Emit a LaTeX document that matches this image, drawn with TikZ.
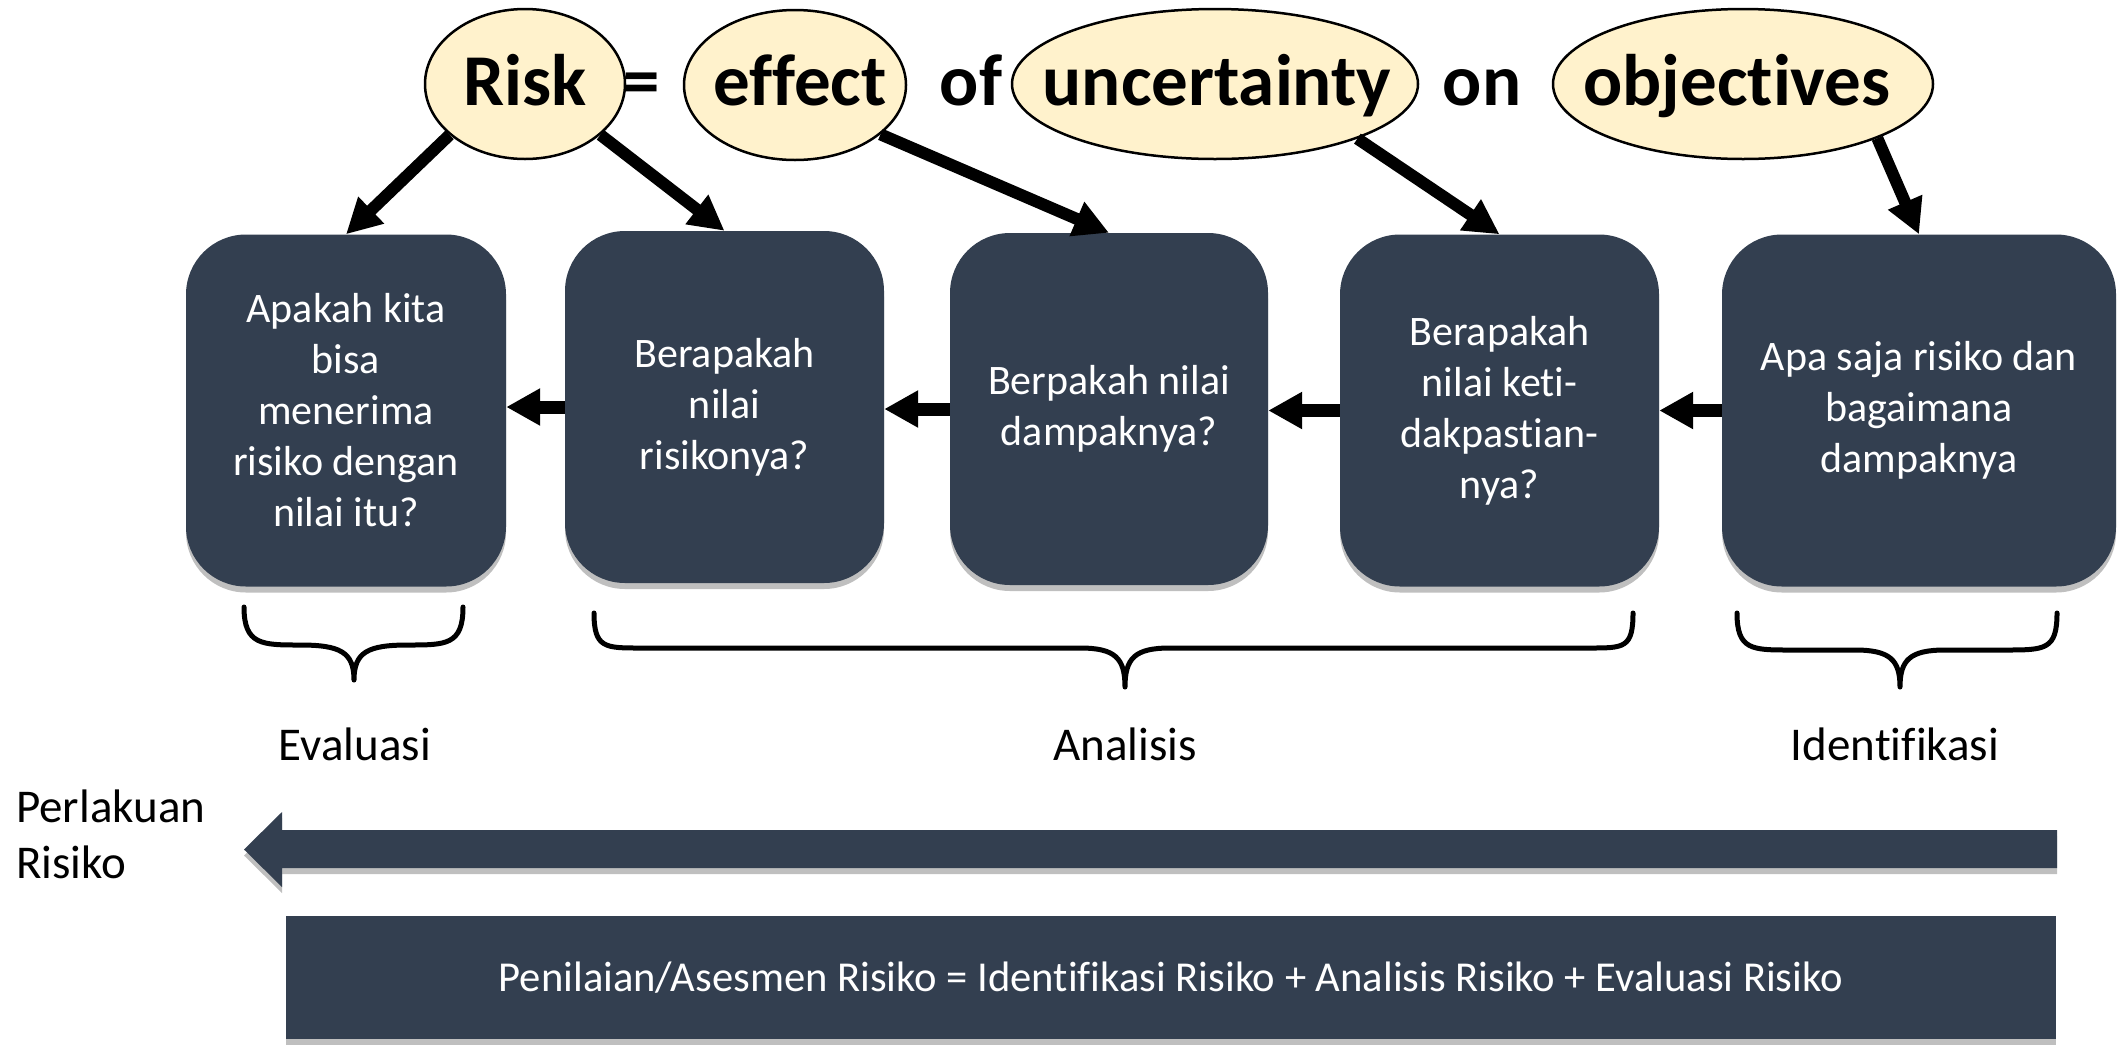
\documentclass[tikz,border=0pt]{standalone}
\usepackage{fontspec}
\setmainfont{Carlito}[Ligatures=NoCommon]
\usetikzlibrary{arrows.meta,shapes.geometric,shadows}
\definecolor{slate}{HTML}{333F50}
\definecolor{cream}{HTML}{FFF2CC}
\begin{document}
\begin{tikzpicture}[x=1pt,y=-1pt,
  oval/.style={ellipse, draw=black, line width=2.5pt, fill=cream, inner sep=0pt},
  word/.style={font=\fontsize{73}{80}\selectfont\bfseries, inner sep=0pt, anchor=base},
  softshadow/.style={drop shadow={shadow xshift=0pt, shadow yshift=-6pt, opacity=0.25, fill=black}},
  stepbox/.style={rectangle, rounded corners=60pt, fill=slate, text=white, align=center,
    font=\fontsize{42}{51}\selectfont, minimum height=352pt, inner sep=0pt, softshadow},
  link/.style={line width=12pt, -{Triangle[length=35pt,width=35pt]}},
  flow/.style={line width=13pt, -{Triangle[length=34pt,width=35pt]}},
  brc/.style={line width=5pt, line cap=round, line join=round},
  lbl/.style={font=\fontsize{47}{56}\selectfont, inner sep=0pt}
]
\useasboundingbox (0,0) rectangle (2125,1045);

% connecting words of the definition
\node[word] (eq) at (642,105) {=};
\node[word] (of) at (971,105) {of};
\node[word] (on) at (1482,105) {on};

% highlighted terms
\node[oval, minimum width=200pt, minimum height=150pt] (risk) at (525,84) {};
\node[oval, minimum width=222pt, minimum height=150pt] (effect) at (795,85) {};
\node[oval, minimum width=406pt, minimum height=150pt] (unc) at (1215,84) {};
\node[oval, minimum width=380pt, minimum height=150pt] (obj) at (1743,84) {};
\node[word] (wrisk) at (525,105) {Risk};
\node[word] (weffect) at (800,105) {effect};
\node[word] (wunc) at (1217,105) {uncertainty};
\node[word] (wobj) at (1737,105) {objectives};

% process steps
\node[stepbox, minimum width=320pt] (b1) at (346,410.5)
  {Apakah kita\\bisa\\menerima\\risiko dengan\\nilai itu?};
\node[stepbox, minimum width=319pt] (b2) at (724.5,407)
  {Berapakah\\nilai\\risikonya?};
\node[stepbox, minimum width=318pt] (b3) at (1109,409)
  {Berpakah nilai\\dampaknya?};
\node[stepbox, minimum width=319pt] (b4) at (1499.5,410.5)
  {Berapakah\\nilai keti-\\dakpastian-\\nya?};
\node[stepbox, minimum width=394pt] (b5) at (1919,410.5)
  {Apa saja risiko dan\\bagaimana\\dampaknya};

% terms pointing to the steps
\draw[link] (risk.-146) -- (b1.north);
\draw[link] (risk.-34) -- (b2.north);
\draw[link] (effect.-30) -- (b3.north);
\draw[link] (unc.-21) -- (b4.north);
\draw[link] (obj.-22) -- (b5.north);

% flow between steps
\draw[flow] (b2.west) -- (b2.west -| b1.east);
\draw[flow] (b3.west) -- (b3.west -| b2.east);
\draw[flow] (b4.west) -- (b4.west -| b3.east);
\draw[flow] (b5.west) -- (b5.west -| b4.east);

% grouping braces
\draw[brc] (244,607) .. controls (244,645) and (262,645) .. (300,645)
  .. controls (340,645) and (354,652) .. (354,680)
  .. controls (354,652) and (368,645) .. (408,645)
  .. controls (446,645) and (463,645) .. (463,607);
\draw[brc] (594,613) .. controls (594,648) and (605,648) .. (640,648) -- (1080,648)
  .. controls (1115,648) and (1125,658) .. (1125,687)
  .. controls (1125,658) and (1135,648) .. (1170,648) -- (1590,648)
  .. controls (1624,648) and (1633,648) .. (1633,613);
\draw[brc] (1737,613) .. controls (1737,650) and (1752,650) .. (1790,650) -- (1855,650)
  .. controls (1890,650) and (1900,660) .. (1900,687)
  .. controls (1900,660) and (1910,650) .. (1945,650) -- (2005,650)
  .. controls (2045,650) and (2057,650) .. (2057,613);

\node[lbl, anchor=base] (leval) at (355,760) {Evaluasi};
\node[lbl, anchor=base] (lanal) at (1125,760) {Analisis};
\node[lbl, anchor=base] (lident) at (1895,760) {Identifikasi};

% treatment arrow
\node[lbl, align=left, anchor=west] (treat) at (16,834) {Perlakuan\\Risiko};
\fill[slate, softshadow] (2057,830) -- (282,830) -- (282,812) -- (244,849.5)
  -- (282,887) -- (282,868) -- (2057,868) -- cycle;

% assessment summary
\node[rectangle, fill=slate, softshadow, minimum width=1770pt, minimum height=123pt,
  inner sep=0pt, text=white, font=\fontsize{42.6}{50}\selectfont] (sum) at (1171,977.5)
  {Penilaian/Asesmen Risiko = Identifikasi Risiko + Analisis Risiko + Evaluasi Risiko};
\end{tikzpicture}
\end{document}
